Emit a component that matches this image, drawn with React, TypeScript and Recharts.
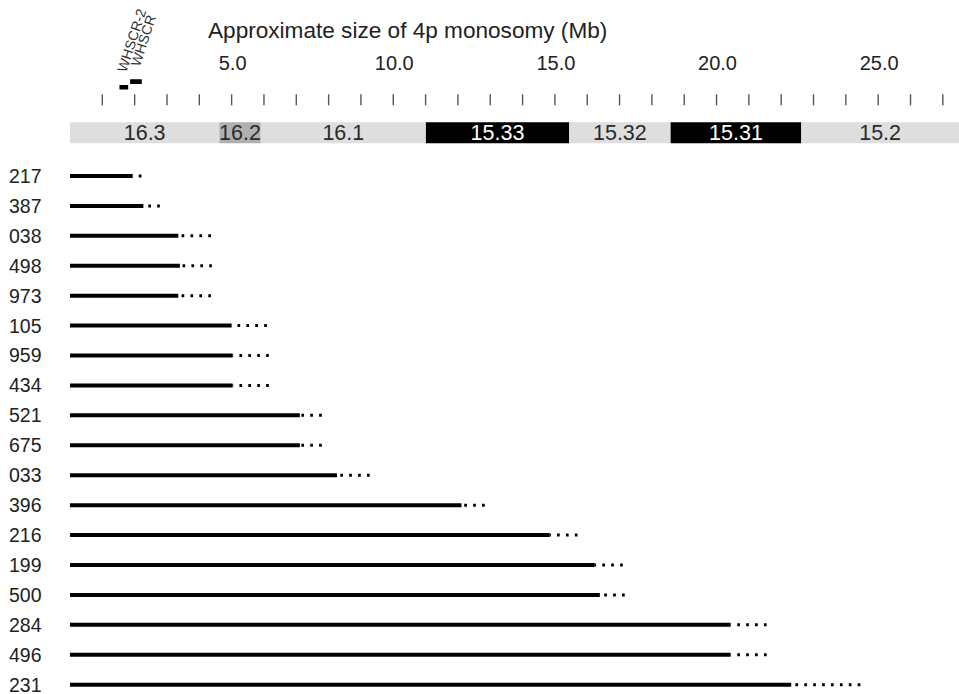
import { BarChart, Bar, XAxis, YAxis, LabelList } from 'recharts'

const FONT = '"Liberation Sans", Arial, Helvetica, sans-serif'

// patients, top to bottom
const patients = ['217', '387', '038', '498', '973', '105', '959', '434', '521', '675', '033', '396', '216', '199', '500', '284', '496', '231']
// end of the confirmed deletion (Mb, solid line)
const deletedMb = [1.94, 2.27, 3.35, 3.4, 3.35, 5.0, 5.03, 5.03, 7.11, 7.11, 8.26, 12.11, 14.84, 16.23, 16.39, 20.43, 20.43, 22.31]
// outer bound of the breakpoint interval (Mb, dotted part)
const maxDeletedMb = [2.21, 2.78, 4.36, 4.39, 4.36, 6.09, 6.15, 6.15, 7.79, 7.79, 9.27, 12.83, 15.7, 17.1, 17.16, 21.55, 21.55, 24.45]

const mbTicks = [1, 2, 3, 4, 5, 6, 7, 8, 9, 10, 11, 12, 13, 14, 15, 16, 17, 18, 19, 20, 21, 22, 23, 24, 25, 26, 27]
const labelledTicks = [5, 10, 15, 20, 25]

// cytogenetic bands of 4p
const bandNames = ['16.3', '16.2', '16.1', '15.33', '15.32', '15.31', '15.2']
const bandStarts = [0, 4.62, 5.9, 11.01, 15.44, 18.58, 22.62]
const bandEnds = [4.62, 5.9, 11.01, 15.44, 18.58, 22.62, 27.5]
const bandStains = ['gneg', 'gpos25', 'gneg', 'gpos100', 'gneg', 'gpos100', 'gneg']

const geneNames = ['WHSCR', 'WHSCR-2']
const geneStarts = [1.86, 1.53]
const geneEnds = [2.22, 1.8]

const X_DOMAIN: [number, number] = [0, 27.5]
const PLOT_LEFT = 70

const stainFill: Record<string, string> = { gneg: '#dedede', gpos25: '#b0b0b0', gpos100: '#000000' }
const stainText: Record<string, string> = { gneg: '#2a2a2a', gpos25: '#2a2a2a', gpos100: '#ffffff' }

const rows = patients.map((id, i) => ({
    id,
    deleted: deletedMb[i],
    uncertain: Math.max(0, maxDeletedMb[i] - deletedMb[i]),
}))

// one stacked row: each band is a segment of width end - start
const bandRow: Record<string, string | number> = { chrom: '4p' }
bandNames.forEach((_, i) => {
    bandRow['b' + i] = bandEnds[i] - bandStarts[i]
})

const genes = geneNames.map((name, i) => ({ name, span: [geneStarts[i], geneEnds[i]] }))

function MbTick(props: any) {
    const { x, y, payload } = props
    const v = payload.value as number
    return (
        <g>
            <line x1={x} x2={x} y1={y - 28} y2={y - 17} stroke="#555" strokeWidth={1.4} />
            {labelledTicks.includes(v) && (
                <text x={x + 1} y={y - 52} textAnchor="middle" fontSize={20} fill="#222" fontFamily={FONT}>
                    {v.toFixed(1)}
                </text>
            )}
        </g>
    )
}

function PatientTick(props: any) {
    const { y, payload } = props
    return (
        <text x={9} y={y + 7} textAnchor="start" fontSize={19.5} fill="#222" fontFamily={FONT}>
            {payload.value}
        </text>
    )
}

function DottedTail(props: any) {
    const { x, y, width, height } = props
    if (!width || width <= 0) return null
    const cy = y + height / 2
    // dashes start from the outer end so the last dot sits on the bound
    return <line x1={x + width} x2={x} y1={cy} y2={cy} stroke="#000" strokeWidth={3} strokeDasharray="2.7 6.2" />
}

function GeneLabel(props: any) {
    const { x, y, width, value } = props
    return (
        <text transform={`translate(${x + width - 2}, ${y - 12}) rotate(-72)`} fontSize={14} fill="#333" fontFamily={FONT}>
            {value}
        </text>
    )
}

function bandLabel(i: number) {
    return (p: any) => (
        <text
            x={p.x + p.width / 2}
            y={p.y + p.height / 2 + 7.5}
            textAnchor="middle"
            fontSize={21.5}
            fill={stainText[bandStains[i]]}
            fontFamily={FONT}
        >
            {bandNames[i]}
        </text>
    )
}

export default function App() {
    return (
        <div style={{ position: 'absolute', left: 0, top: 0, width: 959, height: 694, overflow: 'hidden', background: '#fff', fontFamily: FONT }}>
            <div style={{ position: 'absolute', left: 208, top: 20, fontSize: 22.6, lineHeight: 1, color: '#222', whiteSpace: 'nowrap' }}>
                Approximate size of 4p monosomy (Mb)
            </div>

            {/* axis ticks + cytoband ideogram */}
            <div style={{ position: 'absolute', left: 0, top: 0 }}>
                <BarChart width={959} height={152} data={[bandRow]} layout="vertical" margin={{ top: 0, right: 0, bottom: 8.7, left: PLOT_LEFT }}>
                    <XAxis
                        type="number"
                        orientation="top"
                        domain={X_DOMAIN}
                        ticks={mbTicks}
                        interval={0}
                        height={122.3}
                        tickSize={0}
                        tickMargin={0}
                        axisLine={false}
                        tick={<MbTick />}
                        allowDataOverflow
                    />
                    <YAxis type="category" dataKey="chrom" hide />
                    {bandNames.map((name, i) => (
                        <Bar
                            key={name}
                            dataKey={'b' + i}
                            stackId="band"
                            fill={stainFill[bandStains[i]]}
                            barSize={21}
                            isAnimationActive={false}
                        >
                            <LabelList dataKey={'b' + i} content={bandLabel(i)} />
                        </Bar>
                    ))}
                </BarChart>
            </div>

            {/* gene markers */}
            <div style={{ position: 'absolute', left: 0, top: 0 }}>
                <BarChart width={959} height={100} data={genes} layout="vertical" margin={{ top: 78.3, right: 0, bottom: 10.4, left: PLOT_LEFT }}>
                    <XAxis type="number" domain={X_DOMAIN} hide allowDataOverflow />
                    <YAxis type="category" dataKey="name" hide />
                    <Bar dataKey="span" fill="#000" barSize={4.6} isAnimationActive={false}>
                        <LabelList dataKey="name" content={<GeneLabel />} />
                    </Bar>
                </BarChart>
            </div>

            {/* patient deletions */}
            <div style={{ position: 'absolute', left: 0, top: 160.7 }}>
                <BarChart width={959} height={538.6} data={rows} layout="vertical" margin={{ top: 0, right: 0, bottom: 0, left: 0 }}>
                    <XAxis type="number" domain={X_DOMAIN} hide allowDataOverflow />
                    <YAxis
                        type="category"
                        dataKey="id"
                        width={PLOT_LEFT}
                        axisLine={false}
                        tickLine={false}
                        interval={0}
                        tick={<PatientTick />}
                    />
                    <Bar dataKey="deleted" stackId="p" fill="#000" barSize={4} isAnimationActive={false} />
                    <Bar dataKey="uncertain" stackId="p" shape={<DottedTail />} barSize={4} isAnimationActive={false} />
                </BarChart>
            </div>
        </div>
    )
}
